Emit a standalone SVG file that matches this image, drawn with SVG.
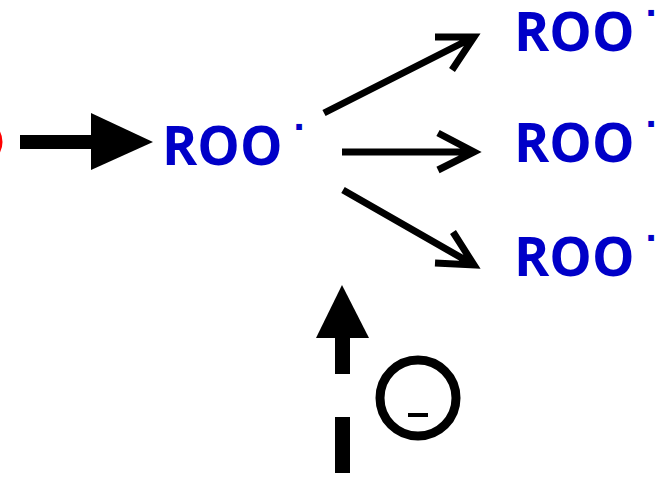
<svg xmlns="http://www.w3.org/2000/svg" width="659" height="477" viewBox="0 0 659 477">
<style>
.roo{font-family:"Open Sans",sans-serif;font-weight:bold;font-size:53.5px;fill:#0000c8}
.dot{font-family:"DejaVu Sans",sans-serif;font-weight:bold;font-size:32px;fill:#0000c8}
.ln{stroke:#000;stroke-width:7;fill:none;stroke-linecap:butt;stroke-linejoin:miter}
</style>
<rect width="659" height="477" fill="#fff"/>
<g id="left-red">
<ellipse cx="-18" cy="142" rx="19" ry="20" fill="none" stroke="#ff0000" stroke-width="3"/>
</g>
<g id="roo-main"><text class="roo" x="162" y="165">ROO</text><text class="dot" x="293" y="130">.</text></g>
<g id="roo-top"><text class="roo" x="514" y="51">ROO</text><text class="dot" x="645" y="16">.</text></g>
<g id="roo-mid"><text class="roo" x="514" y="162">ROO</text><text class="dot" x="645" y="127">.</text></g>
<g id="roo-bot"><text class="roo" x="514" y="276">ROO</text><text class="dot" x="645" y="241">.</text></g>
<g id="connectors">
<rect x="20" y="135" width="72" height="14" fill="#000"/>
<polygon points="91,113 153,142 91,170" fill="#000"/>
<path class="ln" d="M324,113 L474,37 M435,37 L474,37 L452,70"/>
<path class="ln" d="M342,152 L474,152 M438,133 L474,152 L438,170"/>
<path class="ln" d="M343,190 L474,265 M435,263 L474,265 L453,232"/>
<polygon points="342,285 316,338 369,338" fill="#000"/>
<rect x="335" y="337" width="15" height="37" fill="#000"/>
<rect x="335" y="417" width="15" height="56" fill="#000"/>
</g>
<g id="minus-circle">
<circle cx="418" cy="398" r="38" fill="none" stroke="#000" stroke-width="9"/>
<rect x="408" y="413" width="20" height="4" fill="#000"/>
</g>
</svg>
